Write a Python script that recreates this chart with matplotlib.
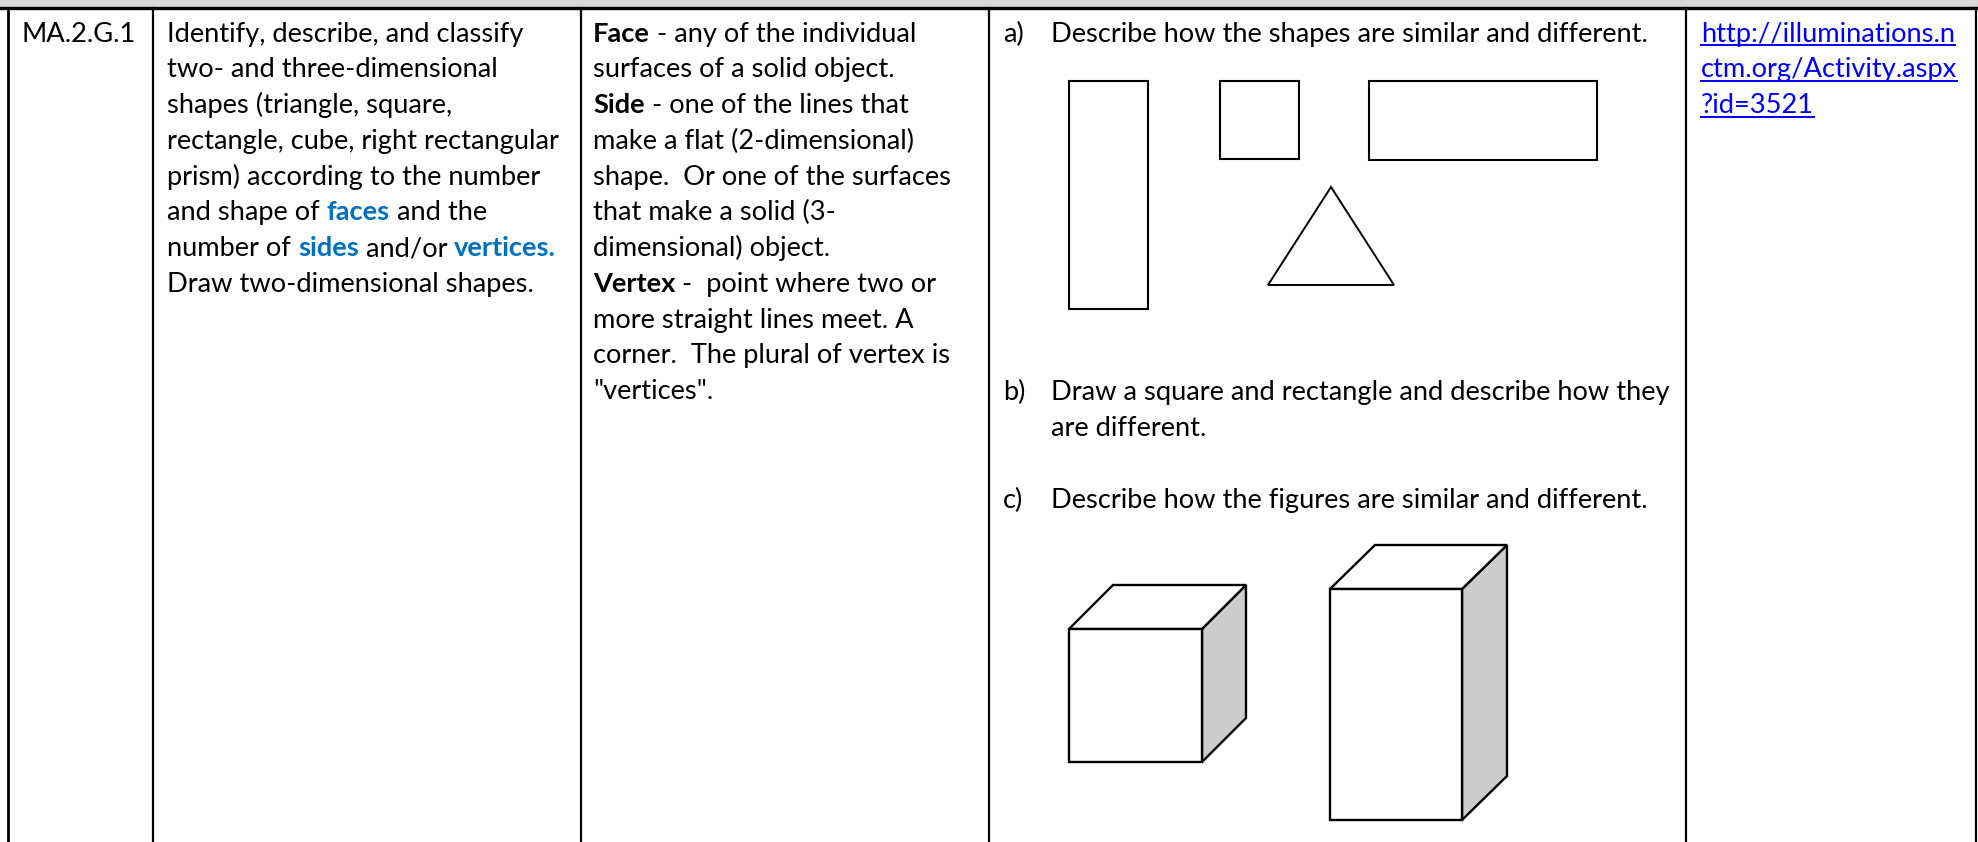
import matplotlib
matplotlib.use("Agg")
import matplotlib.pyplot as plt
from matplotlib.patches import Polygon, Rectangle

FONT = "Lato"
SIZE = 19.6
BLUE = "#0070c0"
LINK = "#0000ff"

# each line is a list of (text, bold, colour)
col1_lines = [[("MA.2.G.1", False, "black")]]
col2_lines = [
    [("Identify, describe, and classify", False, "black")],
    [("two- and three-dimensional", False, "black")],
    [("shapes (triangle, square,", False, "black")],
    [("rectangle, cube, right rectangular", False, "black")],
    [("prism) according to the number", False, "black")],
    [("and shape of ", False, "black"), ("faces", True, BLUE), (" and the", False, "black")],
    [("number of ", False, "black"), ("sides", True, BLUE), (" and/or ", False, "black"), ("vertices.", True, BLUE)],
    [("Draw two-dimensional shapes.", False, "black")],
]
col3_lines = [
    [("Face", True, "black"), (" - any of the individual", False, "black")],
    [("surfaces of a solid object.", False, "black")],
    [("Side", True, "black"), (" - one of the lines that", False, "black")],
    [("make a flat (2-dimensional)", False, "black")],
    [("shape.  Or one of the surfaces", False, "black")],
    [("that make a solid (3-", False, "black")],
    [("dimensional) object.", False, "black")],
    [("Vertex", True, "black"), (" -  point where two or", False, "black")],
    [("more straight lines meet. A", False, "black")],
    [("corner.  The plural of vertex is", False, "black")],
    [('"vertices".', False, "black")],
]
col4_items = [
    ("a)", "Describe how the shapes are similar and different.", 41.7),
    ("b)", "Draw a square and rectangle and describe how they", 400),
    ("", "are different.", 436),
    ("c)", "Describe how the figures are similar and different.", 508),
]
link_lines = ["http://illuminations.n", "ctm.org/Activity.aspx", "?id=3521"]

col_lines_x = [8, 153, 581, 989, 1686, 1976]

rects = [(1069, 81, 79, 228), (1220, 81, 79, 78), (1369, 81, 228, 79)]
triangle = [(1331, 187), (1268, 285), (1394, 285)]
boxes = [
    {"left": 1069, "right": 1202, "top": 629, "bottom": 762, "dx": 44, "dy": 44},
    {"left": 1330, "right": 1462, "top": 589, "bottom": 820, "dx": 45, "dy": 44},
]

FIRST_BASE = 41.7
LINE_H = 35.75

fig = plt.figure(figsize=(19.78, 8.42), dpi=100)
ax = fig.add_axes([0, 0, 1, 1])
ax.set_xlim(0, 1978)
ax.set_ylim(842, 0)
ax.axis("off")


def put_runs(x, y, runs):
    r = fig.canvas.get_renderer()
    for txt, bold, colour in runs:
        weight = "bold" if bold else "normal"
        ax.text(x, y, txt, family=FONT, fontsize=SIZE, color=colour,
                fontweight=weight, va="baseline", ha="left")
        # trailing spaces are not counted reliably, so measure with a stop
        probe = ax.text(x, y, txt + "|", family=FONT, fontsize=SIZE, fontweight=weight)
        bar = ax.text(x, y, "|", family=FONT, fontsize=SIZE, fontweight=weight)
        w = probe.get_window_extent(r).width - bar.get_window_extent(r).width
        probe.remove()
        bar.remove()
        x += w
    return x


# header band and table lines
ax.add_patch(Rectangle((0, 0), 1978, 8, fc="#d9d9d9", ec="none"))
ax.plot([0, 1978], [8, 8], color="black", lw=2.4)
for x in col_lines_x:
    ax.plot([x, x], [8, 842], color="black", lw=2.0 if x == 8 else 1.6)

for i, line in enumerate(col1_lines):
    put_runs(22, FIRST_BASE + i * LINE_H, line)
for i, line in enumerate(col2_lines):
    put_runs(167, FIRST_BASE + i * LINE_H, line)
for i, line in enumerate(col3_lines):
    put_runs(593, FIRST_BASE + i * LINE_H, line)

for label, txt, y in col4_items:
    if label:
        put_runs(1003, y, [(label, False, "black")])
    put_runs(1051, y, [(txt, False, "black")])

for i, txt in enumerate(link_lines):
    y = FIRST_BASE + i * LINE_H
    end = put_runs(1701, y, [(txt, False, LINK)])
    ax.plot([1701, end], [y + 3.7, y + 3.7], color=LINK, lw=1.4)

for x, y, w, h in rects:
    ax.add_patch(Rectangle((x, y), w, h, fc="white", ec="black", lw=1.5))
ax.add_patch(Polygon(triangle, closed=True, fc="white", ec="black", lw=1.4))

for b in boxes:
    l, r, t, bt, dx, dy = b["left"], b["right"], b["top"], b["bottom"], b["dx"], b["dy"]
    ax.add_patch(Polygon([(r, t), (r + dx, t - dy), (r + dx, bt - dy), (r, bt)],
                         closed=True, fc="#cccccc", ec="black", lw=1.7))
    ax.add_patch(Polygon([(l, t), (l + dx, t - dy), (r + dx, t - dy), (r, t)],
                         closed=True, fc="white", ec="black", lw=1.7))
    ax.add_patch(Rectangle((l, t), r - l, bt - t, fc="white", ec="black", lw=1.7))

fig.savefig("out.png", dpi=100)
